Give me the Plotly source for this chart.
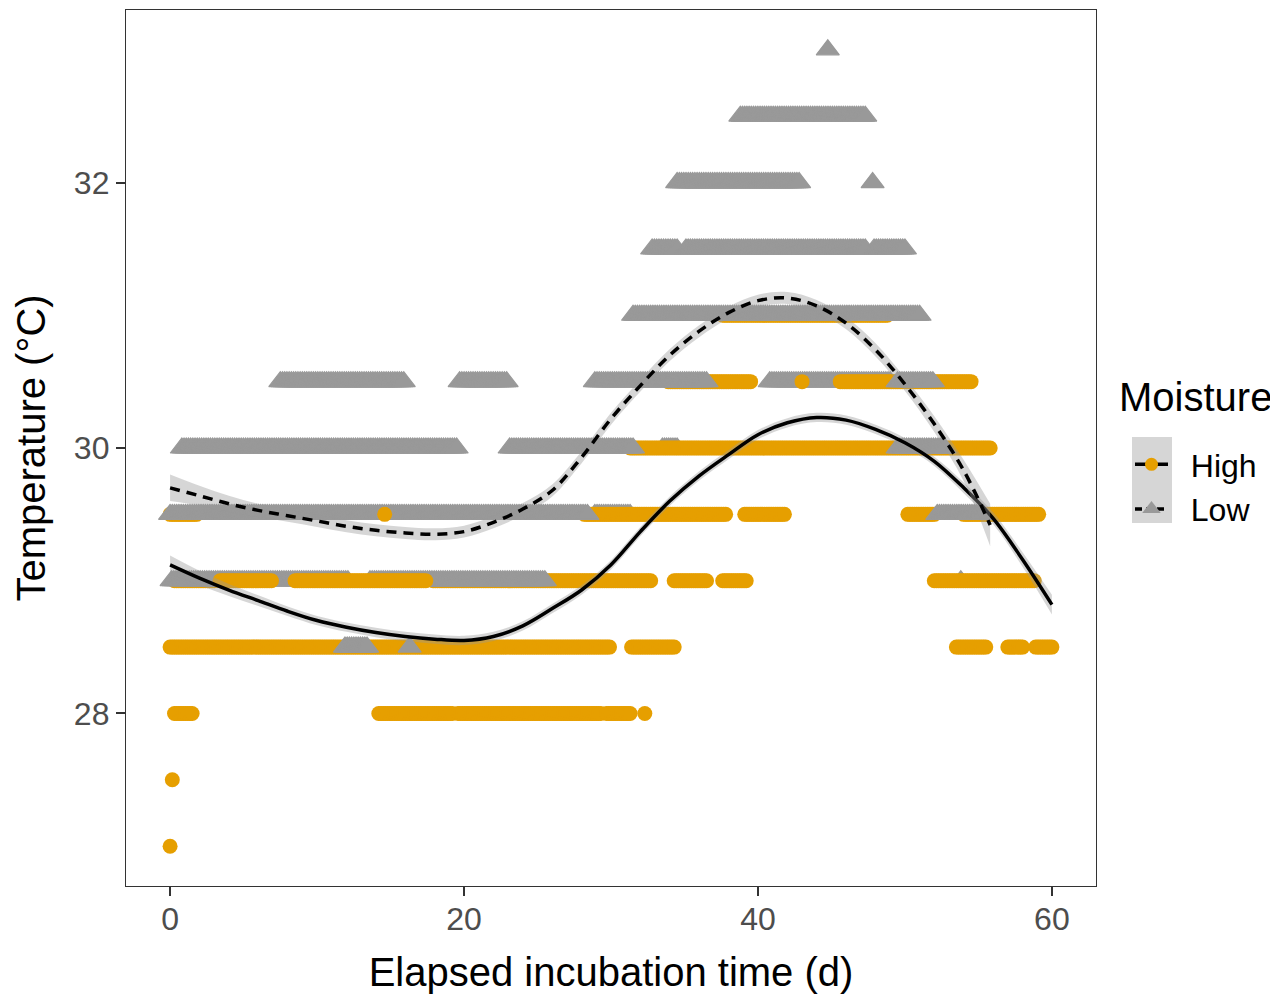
import plotly.graph_objects as go

# ---------------- data ----------------
# Observed temperature readings, given as runs of consecutive readings:
# {temperature: [(first day, last day), ...]}
high_runs = {
    31.0: [(37.6, 48.8)],
    30.5: [(33.9, 39.5), (43.0, 43.0), (45.6, 54.5)],
    30.0: [(31.3, 55.8)],
    29.5: [(0.0, 1.8), (28.2, 37.8), (39.1, 41.8), (50.2, 52.0), (54.0, 59.1)],
    29.0: [(0.3, 3.0), (17.9, 32.7), (34.3, 36.5), (37.6, 39.2), (52.0, 58.8)],
    28.5: [(0.0, 29.9), (31.4, 34.3), (53.5, 55.5), (57.0, 58.0), (58.9, 60.0)],
    28.0: [(0.3, 1.5), (14.2, 19.2), (19.6, 29.3), (29.7, 31.3), (32.3, 32.3)],
    27.5: [(0.15, 0.15)],
    27.0: [(0.0, 0.0)],
}
high_runs_front = {
    29.5: [(14.6, 14.6)],
    29.0: [(3.4, 6.9), (8.5, 17.4)],
}
low_runs = {
    33.0: [(44.75, 44.75)],
    32.5: [(38.8, 47.3)],
    32.0: [(34.5, 42.8), (47.8, 47.8)],
    31.5: [(32.8, 34.5), (35.1, 47.3), (47.9, 50.0)],
    31.0: [(31.5, 51.0)],
    30.5: [(7.5, 15.9), (19.7, 22.9), (28.9, 36.5), (49.5, 51.9)],
    30.0: [(0.8, 19.5), (23.1, 31.5), (49.5, 52.7)],
    29.5: [(0.0, 28.4), (52.2, 55.3)],
    29.0: [(0.1, 12.1), (13.6, 25.5)],
    28.5: [(11.9, 13.4), (16.3, 16.3)],
}
low_runs_back = {
    30.5: [(40.8, 49.0)],
    30.0: [(33.5, 34.5)],
    29.5: [(28.9, 31.3)],
    29.0: [(53.8, 53.8)],
}
reading_interval_days = 0.15

# smoothed fits (loess) with confidence half-widths
high_t = [0, 2, 4, 6, 8, 10, 12, 14, 16, 18, 20, 22, 24, 26, 28, 30,
          32, 34, 36, 38, 40, 42, 44, 46, 48, 50, 52, 54, 56, 58, 60]
high_fit = [29.12, 29.02, 28.93, 28.85, 28.77, 28.70, 28.65, 28.61, 28.58, 28.56,
            28.55, 28.58, 28.66, 28.79, 28.93, 29.12, 29.37, 29.60, 29.79, 29.95,
            30.10, 30.19, 30.23, 30.21, 30.14, 30.04, 29.90, 29.70, 29.47, 29.16, 28.82]
high_ci = [0.07, 0.055, 0.045, 0.04, 0.035, 0.035, 0.035, 0.035, 0.035, 0.035,
           0.035, 0.035, 0.035, 0.035, 0.035, 0.035, 0.035, 0.035, 0.035, 0.035,
           0.035, 0.035, 0.035, 0.035, 0.035, 0.035, 0.035, 0.04, 0.045, 0.055, 0.075]

low_t = [0, 2, 4, 6, 8, 10, 12, 14, 16, 18, 20, 22, 24, 26, 28, 30,
         32, 34, 36, 38, 40, 42, 44, 46, 48, 50, 52, 54, 55.8]
low_fit = [29.70, 29.64, 29.58, 29.53, 29.49, 29.45, 29.41, 29.38, 29.36, 29.35,
           29.37, 29.44, 29.54, 29.68, 29.93, 30.22, 30.47, 30.70, 30.88, 31.02,
           31.11, 31.13, 31.07, 30.94, 30.74, 30.48, 30.18, 29.83, 29.42]
low_ci = [0.10, 0.075, 0.06, 0.05, 0.045, 0.045, 0.045, 0.045, 0.045, 0.045,
          0.045, 0.045, 0.045, 0.045, 0.045, 0.045, 0.045, 0.045, 0.045, 0.045,
          0.045, 0.045, 0.045, 0.045, 0.05, 0.05, 0.06, 0.08, 0.16]

x_ticks = [0, 20, 40, 60]
y_ticks = [28, 30, 32]
groups = ["High", "Low"]

# ---------------- styling ----------------
HIGH_COL = "#E69F00"
LOW_COL = "#999999"
BAND_COL = "rgba(153,153,153,0.4)"
FONT = "Liberation Sans, Arial, sans-serif"

# page body has an 8px default margin; figure sized so the panel lands at 126..1096 x 10..886
W, H = 1270, 989
ML, MR, MT, MB = 118, 182, 2, 111
PW, PH = W - ML - MR, H - MT - MB


def px_x(page_x):
    return (page_x - 8 - ML) / PW


def px_y(page_y):
    return 1 - (page_y - 8 - MT) / PH


def expand(runs):
    xs, ys = [], []
    for level, segs in runs.items():
        for a, b in segs:
            n = int(round((b - a) / reading_interval_days))
            if n == 0:
                xs.append(a)
                ys.append(level)
                continue
            for i in range(n + 1):
                xs.append(a + (b - a) * i / n)
                ys.append(level)
    return xs, ys


def pts(runs, color, symbol, size, lw=0):
    x, y = expand(runs)
    return go.Scatter(x=x, y=y, mode="markers", showlegend=False, hoverinfo="skip",
                      marker=dict(color=color, symbol=symbol, size=size,
                                  line=dict(width=lw, color=color)))


fig = go.Figure()
fig.add_trace(pts(low_runs_back, LOW_COL, "triangle-up", 20, 1.2))
fig.add_trace(pts(high_runs, HIGH_COL, "circle", 15))
fig.add_trace(pts(low_runs, LOW_COL, "triangle-up", 20, 1.2))
fig.add_trace(pts(high_runs_front, HIGH_COL, "circle", 15))

for t, fit, ci, dash in [(high_t, high_fit, high_ci, "solid"), (low_t, low_fit, low_ci, "10px,7px")]:
    lo = [f - c for f, c in zip(fit, ci)]
    hi = [f + c for f, c in zip(fit, ci)]
    fig.add_trace(go.Scatter(x=t, y=lo, mode="lines", line=dict(width=0, shape="spline"),
                             showlegend=False, hoverinfo="skip"))
    fig.add_trace(go.Scatter(x=t, y=hi, mode="lines", line=dict(width=0, shape="spline"),
                             fill="tonexty", fillcolor=BAND_COL, showlegend=False, hoverinfo="skip"))
    fig.add_trace(go.Scatter(x=t, y=fit, mode="lines", showlegend=False, hoverinfo="skip",
                             line=dict(color="black", width=3.5, dash=dash, shape="spline")))

# legend-only entries (leading no-break spaces reproduce the key-to-label gap)
PAD = "\u00a0\u00a0"
fig.add_trace(go.Scatter(x=[None], y=[None], mode="lines+markers", name=PAD + groups[0],
                         marker=dict(color=HIGH_COL, symbol="circle", size=13),
                         line=dict(color="black", width=3.5)))
fig.add_trace(go.Scatter(x=[None], y=[None], mode="lines+markers", name=PAD + groups[1],
                         marker=dict(color=LOW_COL, symbol="triangle-up", size=17),
                         line=dict(color="black", width=3.5, dash="7px,4px")))

axis_common = dict(
    showgrid=False, zeroline=False, showline=True, mirror=True,
    linecolor="#333333", linewidth=1.3,
    ticks="outside", ticklen=9, tickwidth=2, tickcolor="#333333",
    tickfont=dict(family=FONT, size=32, color="#4D4D4D"),
)

fig.update_layout(
    width=W, height=H,
    margin=dict(l=ML, r=MR, t=MT, b=MB),
    paper_bgcolor="white", plot_bgcolor="white",
    font=dict(family=FONT),
    xaxis=dict(range=[-3, 63], tickvals=x_ticks, ticklabelstandoff=-5,
               title=dict(text="Elapsed incubation time (d)", font=dict(size=40, color="black"), standoff=22),
               **axis_common),
    yaxis=dict(range=[26.7, 33.3], tickvals=y_ticks,
               title=dict(text="Temperature (°C)", font=dict(size=40, color="black"), standoff=15),
               **axis_common),
    legend=dict(x=px_x(1130), xanchor="left", y=px_y(437) + 0.0, yanchor="top",
                font=dict(family=FONT, size=32, color="black"), traceorder="normal",
                bgcolor="rgba(0,0,0,0)", itemwidth=33, tracegroupgap=0),
    annotations=[dict(text="Moisture", x=px_x(1117), xref="paper", xanchor="left",
                      y=px_y(397), yref="paper", yanchor="middle", showarrow=False,
                      font=dict(family=FONT, size=40, color="black"))],
)

# grey key background for legend
fig.add_shape(type="rect", xref="paper", yref="paper",
              x0=px_x(1132), x1=px_x(1172), y0=px_y(523), y1=px_y(437),
              fillcolor="#D6D6D6", line=dict(width=0), layer="below")

fig.write_html("out.html")
